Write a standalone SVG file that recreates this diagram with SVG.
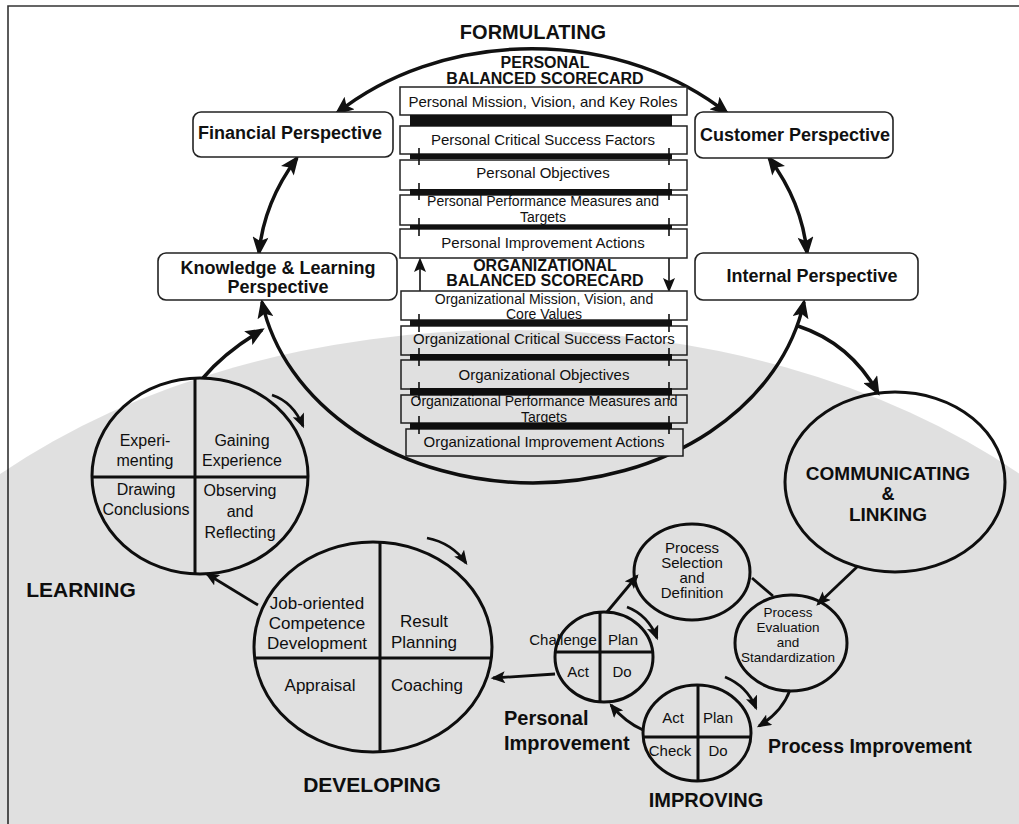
<svg xmlns="http://www.w3.org/2000/svg" width="1019" height="824" viewBox="0 0 1019 824">
  <defs>
    <style>
      text { font-family: "Liberation Sans", Arial, sans-serif; fill: #111; }
      .t13 { font-size: 13.5px; text-anchor: middle; }
      .t14 { font-size: 14px; text-anchor: middle; }
      .t15 { font-size: 15px; text-anchor: middle; }
      .t16 { font-size: 16px; text-anchor: middle; }
      .t17 { font-size: 17px; text-anchor: middle; }
      .hdr { font-size: 16px; font-weight: bold; text-anchor: middle; }
      .persp { font-size: 18px; font-weight: bold; text-anchor: middle; }
      .title { font-size: 20px; font-weight: bold; text-anchor: middle; }
      .sbox { fill: #fff; stroke: #222; stroke-width: 1.5; }
      .pbox { fill: #fff; stroke: #222; stroke-width: 1.6; }
      .bar { fill: #111; }
      .ring { fill: none; stroke: #111; stroke-width: 3; }
      .div { stroke: #111; stroke-width: 3; }
      .big { fill: none; stroke: #111; stroke-width: 3.5; }
      .thin { fill: none; stroke: #111; stroke-width: 2.8; }
      .tick { fill: none; stroke: #111; stroke-width: 1.6; }
      .wm { fill: #000; fill-opacity: 0.12; }
    </style>
    <marker id="ahBig" viewBox="0 0 12 10" refX="10" refY="5" markerWidth="20" markerHeight="16" markerUnits="userSpaceOnUse" orient="auto-start-reverse">
      <path d="M0,0 L12,5 L0,10 L2.5,5 z" fill="#111"/>
    </marker>
    <marker id="ahSmall" viewBox="0 0 12 10" refX="10" refY="5" markerWidth="15" markerHeight="12" markerUnits="userSpaceOnUse" orient="auto-start-reverse">
      <path d="M0,0 L12,5 L0,10 L2.5,5 z" fill="#111"/>
    </marker>
  </defs>

  <rect width="1019" height="824" fill="#fff"/>

  <!-- page frame -->
  <path d="M8,824 L8,6 L1019,6" fill="none" stroke="#333" stroke-width="1.6"/>

  <!-- connectors -->
  <g id="connectors">
    <!-- outer cycle of the four perspectives -->
    <path class="big" d="M337,113 A275,218 0 0 1 727,113" marker-start="url(#ahBig)" marker-end="url(#ahBig)"/>
    <path class="big" d="M297,158 A275,218 0 0 0 259,253" marker-start="url(#ahBig)" marker-end="url(#ahBig)"/>
    <path class="big" d="M769,158 A275,218 0 0 1 807,253" marker-start="url(#ahBig)" marker-end="url(#ahBig)"/>
    <path class="big" d="M262,302 A275,218 0 0 0 804,302" marker-start="url(#ahBig)" marker-end="url(#ahBig)"/>
    <!-- to communicating & linking -->
    <path class="big" d="M798,326 Q850,343 878,393" marker-end="url(#ahBig)"/>
    <!-- learning cycle feeds the knowledge perspective -->
    <path class="big" d="M203,378 Q225,352 262,330" marker-end="url(#ahBig)"/>
    <!-- link between personal and organizational scorecards -->
    <path class="tick" d="M420,291 L420,260" marker-end="url(#ahSmall)"/>
    <path class="tick" d="M669,258 L669,290" marker-end="url(#ahSmall)"/>

    <!-- lower cycle -->
    <path class="thin" d="M258,605 L207,574" marker-end="url(#ahSmall)"/>
    <path class="thin" d="M555,674 L493,678" marker-end="url(#ahSmall)"/>
    <path class="thin" d="M607,612 L637,576" marker-end="url(#ahSmall)"/>
    <path class="thin" d="M858,566 L818,604" marker-end="url(#ahSmall)"/>
    <path class="thin" d="M790,690 Q782,712 759,726" marker-end="url(#ahSmall)"/>
    <path class="thin" d="M643,730 Q625,722 611,705" marker-end="url(#ahSmall)"/>
    <path class="thin" d="M752,578 L773,596"/>

    <!-- rotation hints inside the cycles -->
    <path class="thin" d="M272,395 Q293,402 303,426" marker-end="url(#ahSmall)"/>
    <path class="thin" d="M427,538 Q452,543 466,563" marker-end="url(#ahSmall)"/>
    <path class="thin" d="M627,607 Q648,615 657,638" marker-end="url(#ahSmall)"/>
    <path class="thin" d="M725,677 Q747,686 756,708" marker-end="url(#ahSmall)"/>
  </g>

  <!-- perspectives -->
  <g id="financial">
    <rect class="pbox" x="193" y="112" width="200" height="45" rx="8"/>
    <text class="persp" x="290" y="139">Financial Perspective</text>
  </g>
  <g id="customer">
    <rect class="pbox" x="695" y="112" width="198" height="46" rx="8"/>
    <text class="persp" x="795" y="141">Customer Perspective</text>
  </g>
  <g id="knowledge">
    <rect class="pbox" x="158" y="253" width="239" height="47" rx="8"/>
    <text class="persp" x="278" y="274">Knowledge &amp; Learning</text>
    <text class="persp" x="278" y="293">Perspective</text>
  </g>
  <g id="internal">
    <rect class="pbox" x="695" y="253" width="223" height="47" rx="8"/>
    <text class="persp" x="812" y="282">Internal Perspective</text>
  </g>

  <!-- personal balanced scorecard -->
  <g id="personal-scorecard">
    <text class="hdr" x="545" y="68">PERSONAL</text>
    <text class="hdr" x="545" y="84">BALANCED SCORECARD</text>
    <rect class="sbox" x="400" y="87" width="287" height="28"/>
    <text class="t15" x="543" y="107">Personal Mission, Vision, and Key Roles</text>
    <rect class="sbox" x="400" y="126" width="287" height="28"/>
    <text class="t15" x="543" y="145">Personal Critical Success Factors</text>
    <rect class="sbox" x="400" y="160" width="287" height="30"/>
    <text class="t15" x="543" y="178">Personal Objectives</text>
    <rect class="sbox" x="400" y="195" width="287" height="30"/>
    <text class="t14" x="543" y="206">Personal Performance Measures and</text>
    <text class="t14" x="543" y="222">Targets</text>
    <rect class="sbox" x="400" y="229" width="287" height="29"/>
    <text class="t15" x="543" y="248">Personal Improvement Actions</text>
    <rect class="bar" x="410" y="115" width="262" height="11"/>
    <rect class="bar" x="410" y="154" width="262" height="5"/>
    <rect class="bar" x="410" y="189" width="262" height="6"/>
    <rect class="bar" x="410" y="225" width="262" height="4"/>
    <path class="tick" d="M419,148 L419,165 M669,148 L669,165 M419,183 L419,200 M669,183 L669,200 M419,218 L419,236 M669,218 L669,236"/>
  </g>

  <!-- organizational balanced scorecard -->
  <g id="organizational-scorecard">
    <text class="hdr" x="545" y="271">ORGANIZATIONAL</text>
    <text class="hdr" x="545" y="286">BALANCED SCORECARD</text>
    <rect class="sbox" x="401" y="291" width="286" height="29"/>
    <text class="t14" x="544" y="304">Organizational Mission, Vision, and</text>
    <text class="t14" x="544" y="319">Core Values</text>
    <rect class="sbox" x="401" y="326" width="286" height="29"/>
    <text class="t15" x="544" y="344">Organizational Critical Success Factors</text>
    <rect class="sbox" x="401" y="360" width="286" height="29"/>
    <text class="t15" x="544" y="380">Organizational Objectives</text>
    <rect class="sbox" x="401" y="395" width="286" height="28"/>
    <text class="t14" x="544" y="406">Organizational Performance Measures and</text>
    <text class="t14" x="544" y="422">Targets</text>
    <rect class="sbox" x="406" y="429" width="277" height="27"/>
    <text class="t15" x="544" y="447">Organizational Improvement Actions</text>
    <rect class="bar" x="410" y="320" width="262" height="6"/>
    <rect class="bar" x="410" y="354" width="262" height="6"/>
    <rect class="bar" x="410" y="388" width="262" height="7"/>
    <rect class="bar" x="410" y="423" width="262" height="6"/>
    <path class="tick" d="M419,314 L419,332 M669,314 L669,332 M419,348 L419,366 M669,348 L669,366 M419,382 L419,400 M669,382 L669,400 M419,416 L419,434 M669,416 L669,434"/>
  </g>

  <g id="formulating">
    <text class="title" x="533" y="39">FORMULATING</text>
  </g>

  <!-- learning cycle -->
  <g id="learning">
    <ellipse class="ring" cx="200" cy="476" rx="108" ry="98"/>
    <line class="div" x1="195" y1="378" x2="195" y2="574"/>
    <line class="div" x1="92" y1="477" x2="308" y2="477"/>
    <text class="t16" x="145" y="446">Experi-</text>
    <text class="t16" x="145" y="466">menting</text>
    <text class="t16" x="242" y="446">Gaining</text>
    <text class="t16" x="242" y="466">Experience</text>
    <text class="t16" x="146" y="495">Drawing</text>
    <text class="t16" x="146" y="515">Conclusions</text>
    <text class="t16" x="240" y="496">Observing</text>
    <text class="t16" x="240" y="517">and</text>
    <text class="t16" x="240" y="538">Reflecting</text>
    <text class="title" x="81" y="597" style="font-size:21px">LEARNING</text>
  </g>

  <!-- developing cycle -->
  <g id="developing">
    <ellipse class="ring" cx="373" cy="647" rx="119" ry="105"/>
    <line class="div" x1="380" y1="542" x2="380" y2="752"/>
    <line class="div" x1="255" y1="658" x2="491" y2="658"/>
    <text class="t17" x="317" y="609">Job-oriented</text>
    <text class="t17" x="317" y="629">Competence</text>
    <text class="t17" x="317" y="649">Development</text>
    <text class="t17" x="424" y="627">Result</text>
    <text class="t17" x="424" y="648">Planning</text>
    <text class="t17" x="320" y="691">Appraisal</text>
    <text class="t17" x="427" y="691">Coaching</text>
    <text class="title" x="372" y="792" style="font-size:21px">DEVELOPING</text>
  </g>

  <!-- communicating & linking -->
  <g id="communicating">
    <ellipse class="ring" cx="895" cy="482" rx="110" ry="90"/>
    <text class="title" x="888" y="480" style="font-size:19px">COMMUNICATING</text>
    <text class="title" x="888" y="500" style="font-size:18px">&amp;</text>
    <text class="title" x="888" y="521" style="font-size:19px">LINKING</text>
  </g>

  <g id="process-selection">
    <ellipse class="ring" cx="692" cy="572" rx="58" ry="48"/>
    <text class="t15" x="692" y="553">Process</text>
    <text class="t15" x="692" y="568">Selection</text>
    <text class="t15" x="692" y="583">and</text>
    <text class="t15" x="692" y="598">Definition</text>
  </g>

  <g id="process-evaluation">
    <ellipse class="ring" cx="791" cy="643" rx="56" ry="48"/>
    <text class="t13" x="788" y="617">Process</text>
    <text class="t13" x="788" y="632">Evaluation</text>
    <text class="t13" x="788" y="647">and</text>
    <text class="t13" x="788" y="662">Standardization</text>
  </g>

  <g id="personal-improvement">
    <ellipse class="ring" cx="604" cy="657" rx="49" ry="45"/>
    <line class="div" x1="600" y1="612" x2="600" y2="702"/>
    <line class="div" x1="555" y1="652" x2="653" y2="652"/>
    <text class="t15" x="563" y="645">Challenge</text>
    <text class="t15" x="623" y="645">Plan</text>
    <text class="t15" x="578" y="677">Act</text>
    <text class="t15" x="622" y="677">Do</text>
    <text class="title" x="504" y="725" style="text-anchor:start">Personal</text>
    <text class="title" x="504" y="750" style="text-anchor:start">Improvement</text>
  </g>

  <g id="process-improvement">
    <ellipse class="ring" cx="697" cy="733" rx="54" ry="48"/>
    <line class="div" x1="698" y1="685" x2="698" y2="781"/>
    <line class="div" x1="643" y1="737" x2="751" y2="737"/>
    <text class="t15" x="673" y="723">Act</text>
    <text class="t15" x="718" y="723">Plan</text>
    <text class="t15" x="670" y="756">Check</text>
    <text class="t15" x="718" y="756">Do</text>
    <text class="title" x="870" y="753" style="font-size:19.5px">Process Improvement</text>
    <text class="title" x="706" y="807">IMPROVING</text>
  </g>

  <!-- faint emblem printed over the page -->
  <g id="emblem">
    <ellipse class="wm" cx="510" cy="820" rx="720" ry="490"/>
  </g>
</svg>
